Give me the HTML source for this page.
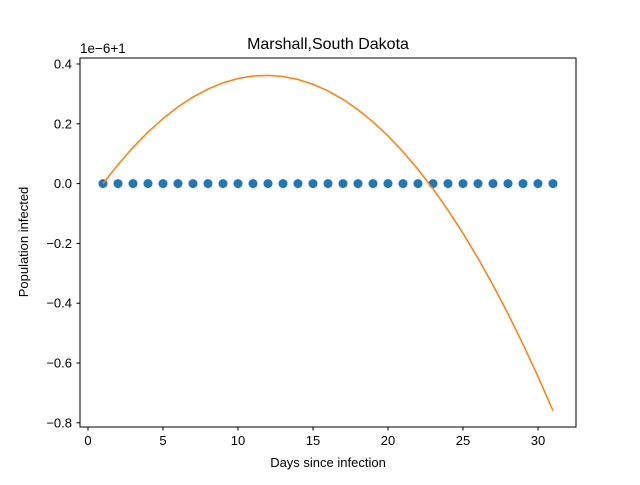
<!DOCTYPE html>
<html><head><meta charset="utf-8"><style>
body{margin:0;background:#fff}
svg{font-family:"Liberation Sans","DejaVu Sans",sans-serif}
</style></head><body>
<svg id="chart" width="640" height="480" xmlns="http://www.w3.org/2000/svg">
<rect width="640" height="480" fill="#fff"/>
<text x="328" y="49" font-size="16" text-anchor="middle">Marshall,South Dakota</text>
<text x="80" y="53" font-size="13.5">1e−6+1</text>
<g id="xticks"></g><g id="yticks"></g>
<g id="series"></g>
<rect x="80" y="58" width="496" height="369" fill="none" stroke="#000" stroke-width="1"/>
<text x="328" y="467" font-size="13" text-anchor="middle">Days since infection</text>
<text transform="translate(28,242) rotate(-90)" font-size="13" text-anchor="middle">Population infected</text>
</svg>
<script>
const days=[1,2,3,4,5,6,7,8,9,10,11,12,13,14,15,16,17,18,19,20,21,22,23,24,25,26,27,28,29,30,31];
const observed=[0,0,0,0,0,0,0,0,0,0,0,0,0,0,0,0,0,0,0,0,0,0,0,0,0,0,0,0,0,0,0];
const fitted=[0,0.0636,0.1210,0.1723,0.2175,0.2565,0.2895,0.3162,0.3369,0.3514,0.3598,0.3620,0.3582,0.3482,0.3321,0.3099,0.2815,0.2469,0.2062,0.1595,0.1066,0.0475,-0.0176,-0.0889,-0.1663,-0.2498,-0.3395,-0.4353,-0.5374,-0.6454,-0.7596];
const xTicks=[0,5,10,15,20,25,30];
const yTicks=[0.4,0.2,0.0,-0.2,-0.4,-0.6,-0.8];
const NS="http://www.w3.org/2000/svg";
const X=v=>88+v*15;
const Y=v=>183.6-v*299;
function mk(t,a){const e=document.createElementNS(NS,t);for(const k in a)e.setAttribute(k,a[k]);return e;}
const xg=document.getElementById('xticks'),yg=document.getElementById('yticks'),sg=document.getElementById('series');
xTicks.forEach(v=>{
 const l=mk('line',{x1:X(v),x2:X(v),y1:427,y2:430.5,stroke:'#000'});
 
 
 xg.appendChild(l);
 const t=mk('text',{x:X(v),y:445,'font-size':13,'text-anchor':'middle'});t.textContent=v;
 
 
 xg.appendChild(t);
});
yTicks.forEach(v=>{
 const l=mk('line',{x1:76.5,x2:80,y1:Y(v),y2:Y(v),stroke:'#000'});
 
 
 yg.appendChild(l);
 const t=mk('text',{x:72,y:Y(v)+4.5,'font-size':13,'text-anchor':'end'});t.textContent=(v<0?'−':'')+Math.abs(v).toFixed(1);
 
 
 yg.appendChild(t);
});
days.forEach((d,i)=>{
 const c=mk('circle',{cx:X(d),cy:Y(observed[i]),r:4.5,fill:'#1f77b4'});
 
 
 sg.appendChild(c);
});
const p=mk('polyline',{points:days.map((d,i)=>X(d)+','+Y(fitted[i])).join(' '),fill:'none',stroke:'#ff7f0e','stroke-width':1.5});


sg.appendChild(p);
</script>
</body></html>
